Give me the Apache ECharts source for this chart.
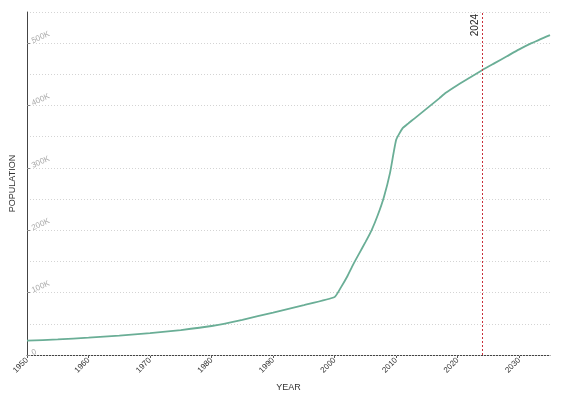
<!DOCTYPE html>
<html><head><meta charset="utf-8">
<script src="https://cdn.jsdelivr.net/npm/echarts@6/dist/echarts.min.js"></script>
<style>html,body{margin:0;padding:0;background:#fff}#c{width:570px;height:401px}</style>
</head><body><div id="c"></div>
<script>
const years = [1950,1955,1960,1965,1970,1975,1980,1985,1990,1995,2000,2001,2002,2003,2004,2005,2006,2007,2008,2009,2010,2011,2012,2013,2014,2015,2016,2017,2018,2020,2022,2024,2026,2028,2030,2032,2035];
const population = [23000,25000,27700,31000,35000,40000,46500,56500,68000,80000,93000,108000,125000,145000,163000,181000,200000,224000,253000,292000,345000,363000,371500,379500,387500,395500,403500,411500,420000,433000,445000,457000,468000,479000,490000,500000,513000];
const markerYear = 2024;
const xTickValues = [1950,1960,1970,1980,1990,2000,2010,2020,2030];
const yTickValues = [0,100000,200000,300000,400000,500000];
const yTickLabels = ['0','100K','200K','300K','400K','500K'];

const chart = echarts.init(document.getElementById('c'));
chart.setOption({
  animation:false,
  textStyle:{fontFamily:'Liberation Sans, Arial, sans-serif'},
  grid:{left:23,right:20,top:12,bottom:46},
  xAxis:{
    type:'value',min:1950,max:2035,interval:10,
    name:'YEAR',nameLocation:'middle',nameGap:28,
    nameTextStyle:{fontSize:9,color:'#333'},
    axisLine:{lineStyle:{color:'#444',width:1}},
    axisTick:{show:true,length:3,lineStyle:{color:'#555'},customValues:xTickValues},
    axisLabel:{rotate:45,fontSize:8,color:'#333',margin:4,customValues:xTickValues,formatter:v=>String(v)},
    splitLine:{show:false}
  },
  yAxis:[{
    type:'value',min:0,max:550000,interval:50000,
    name:'POPULATION',nameLocation:'middle',nameGap:10,
    nameTextStyle:{fontSize:9,color:'#333'},
    axisLine:{show:true,lineStyle:{color:'#444',width:1}},
    axisTick:{show:true,inside:true,length:3,lineStyle:{color:'#888'},customValues:yTickValues},
    axisLabel:{inside:true,rotate:25,fontSize:8,color:'#aaa',margin:6,verticalAlign:'bottom',lineHeight:4,
      customValues:yTickValues,
      formatter:v=> yTickLabels[yTickValues.indexOf(v)]},
    splitLine:{show:false},
    z:3
  },{
    type:'value',min:0,max:550000,interval:50000,position:'left',
    axisLine:{show:false},axisTick:{show:false},axisLabel:{show:false},
    splitLine:{show:true,lineStyle:{color:'#d4d4d4',type:[1,2],width:1}},
    z:1
  }],
  series:[{
    type:'line',
    data:years.map((y,i)=>[y,population[i]]),
    showSymbol:false,smooth:0.15,
    lineStyle:{color:'#6aae96',width:1.8},
    itemStyle:{color:'#6aae96'},
    markLine:{
      silent:true,symbol:'none',
      lineStyle:{color:'#c9303a',type:[2,2],width:1},
      label:{show:true,position:'insideEndTop',formatter:String(markerYear),color:'#222',fontSize:10,distance:2},
      data:[{xAxis:markerYear}]
    }
  }]
});
</script></body></html>
